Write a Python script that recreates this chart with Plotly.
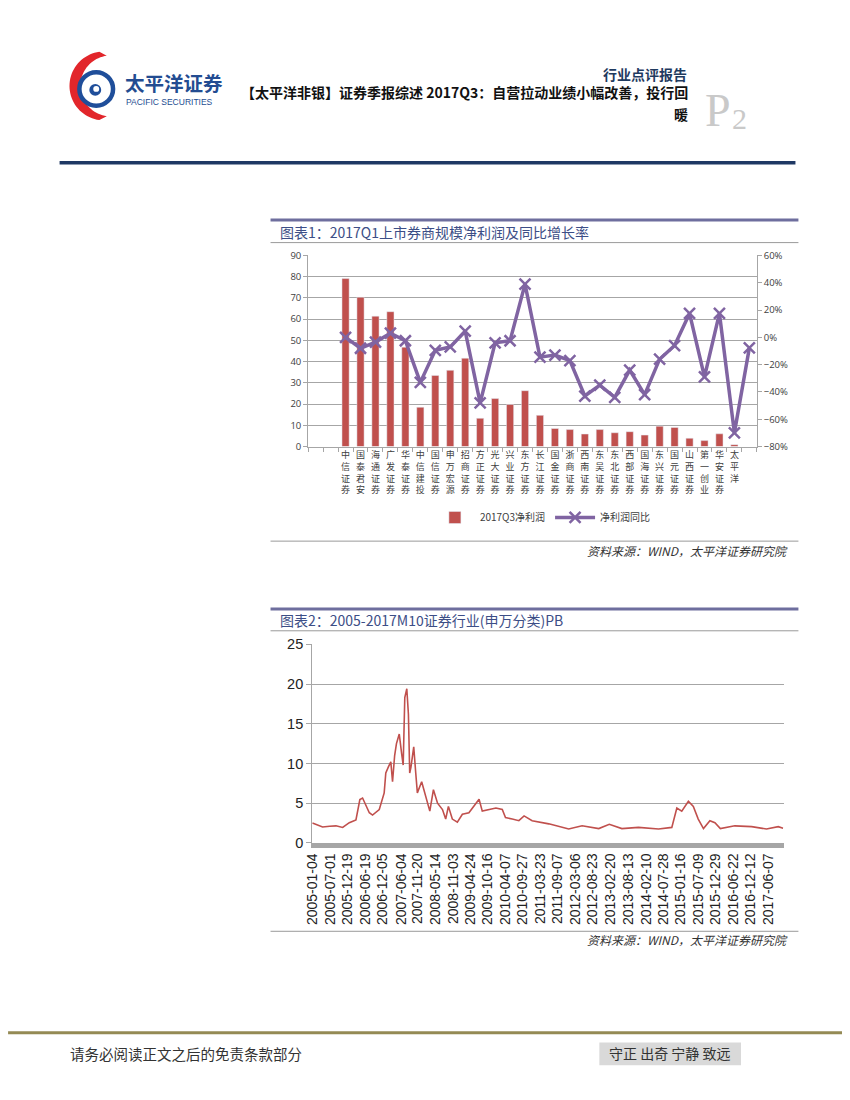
import math
import plotly.graph_objects as go

# The page body keeps the browser's default 8px margin, so the figure is
# sized to fill the 850x1100 window exactly together with that margin.
PAGE_W, PAGE_H = 850, 1100
OFF = 8
W, H = PAGE_W - 2 * OFF, PAGE_H - 2 * OFF

# ---------------- data: chart 1 ----------------
brokers = ["", "", "中信证券", "国泰君安", "海通证券", "广发证券", "华泰证券", "中信建投",
           "国信证券", "申万宏源", "招商证券", "方正证券", "光大证券", "兴业证券", "东方证券",
           "长江证券", "国金证券", "浙商证券", "西南证券", "东吴证券", "东北证券", "西部证券",
           "国海证券", "东兴证券", "国元证券", "山西证券", "第一创业", "华安证券", "太平洋", ""]
net_profit = [None, None, 79.1, 70.3, 61.4, 63.5, 46.8, 18.5, 33.5, 35.9, 41.6, 13.3, 22.6, 19.8,
              26.3, 14.7, 8.5, 8.0, 5.9, 8.0, 6.5, 7.0, 5.4, 9.6, 9.0, 3.9, 2.8, 6.0, 0.9, None]
yoy_pct = [None, None, 0, -8, -3.5, 3, -2.5, -33, -9.5, -7, 4.5, -48, -4, -2.5, 39, -14.5, -13,
           -17, -43, -35, -44, -24, -42, -16, -6, 17.5, -29, 17.5, -70, -7.7]

# ---------------- data: chart 2 ----------------
pb_dates = ["2005-01-04", "2005-02-16", "2005-04-15", "2005-06-24", "2005-08-26", "2005-11-01",
            "2006-01-06", "2006-03-13", "2006-04-21", "2006-05-18", "2006-06-16", "2006-07-24",
            "2006-08-25", "2006-10-31", "2006-12-19", "2007-01-04", "2007-01-31", "2007-02-23",
            "2007-03-12", "2007-04-02", "2007-04-20", "2007-05-18", "2007-06-11", "2007-06-26",
            "2007-07-12", "2007-08-01", "2007-08-17", "2007-08-30", "2007-09-11", "2007-10-09",
            "2007-10-29", "2007-11-14", "2007-12-27", "2008-02-05", "2008-03-17", "2008-04-22",
            "2008-06-02", "2008-07-21", "2008-08-22", "2008-09-18", "2008-10-27", "2008-12-16",
            "2009-02-04", "2009-04-10", "2009-06-01", "2009-07-20", "2009-08-21", "2009-10-27",
            "2010-01-04", "2010-03-08", "2010-04-09", "2010-06-15", "2010-08-20", "2010-10-11",
            "2010-12-30", "2011-06-14", "2011-12-29", "2012-05-10", "2012-10-23", "2013-02-05",
            "2013-06-10", "2013-11-22", "2014-06-10", "2014-10-20", "2014-12-09", "2015-01-27",
            "2015-04-03", "2015-05-22", "2015-07-10", "2015-08-31", "2015-11-03", "2015-12-23",
            "2016-02-15", "2016-07-08", "2016-12-22", "2017-05-19", "2017-09-13", "2017-10-31"]
pb_values = [2.5, 2.3, 2.0, 2.1, 2.15, 1.95,
             2.55, 2.9, 5.45, 5.65, 4.8, 3.8,
             3.5, 4.2, 6.3, 8.8, 9.6, 10.2,
             7.7, 11.0, 12.5, 13.7, 11.2, 9.8,
             18.3, 19.4, 16.2, 8.8, 9.5, 12.1,
             8.8, 6.3, 7.7, 5.9, 4.0, 6.7,
             5.0, 4.2, 3.0, 4.6, 3.0, 2.6,
             3.6, 3.8, 4.6, 5.5, 4.0, 4.2,
             4.4, 4.2, 3.2, 3.0, 2.8, 3.4,
             2.8, 2.4, 1.75, 2.15, 1.8, 2.35,
             1.8, 1.95, 1.75, 1.95, 4.4, 4.0,
             5.25, 4.6, 3.0, 1.8, 2.8, 2.55,
             1.8, 2.15, 2.05, 1.75, 2.05, 1.85]
pb_tick_dates = ["2005-01-04", "2005-07-01", "2005-12-19", "2006-06-19", "2006-12-05", "2007-06-04",
                 "2007-11-20", "2008-05-14", "2008-11-03", "2009-04-24", "2009-10-16", "2010-04-07",
                 "2010-09-27", "2011-03-23", "2011-09-07", "2012-03-06", "2012-08-23", "2013-02-20",
                 "2013-08-13", "2014-02-10", "2014-07-28", "2015-01-16", "2015-07-09", "2015-12-29",
                 "2016-06-22", "2016-12-12", "2017-06-07"]


def px(x):
    return (x - OFF) / W


def py(y):
    return 1 - (y - OFF) / H


CJK = "Noto Sans CJK SC"
GRID = "#a6a6a6"

# unique category keys (blank slots get private keys, shown with empty labels)
cat_keys = [b if b else f"_slot{i}" for i, b in enumerate(brokers)]
cat_text = ["<br>".join(b) for b in brokers]

fig = go.Figure()
fig.add_trace(go.Bar(x=cat_keys, y=net_profit, name="2017Q3净利润", marker_color="#C0504D",
                     xaxis="x", yaxis="y"))
fig.add_trace(go.Scatter(x=cat_keys, y=[None if v is None else v / 100 for v in yoy_pct],
                         name="净利润同比", mode="lines+markers",
                         line=dict(color="#8064A2", width=3.5),
                         marker=dict(symbol="x-thin-open", size=11, color="#8064A2",
                                     line=dict(width=2.5, color="#8064A2")),
                         xaxis="x", yaxis="y2"))
fig.add_trace(go.Scatter(x=pb_dates, y=pb_values, mode="lines", showlegend=False,
                         line=dict(color="#C0504D", width=1.6), xaxis="x2", yaxis="y3"))

fig.update_layout(
    width=W, height=H, autosize=False,
    margin=dict(l=0, r=0, t=0, b=0),
    paper_bgcolor="white", plot_bgcolor="white",
    bargap=0.52,
    font=dict(family=CJK, color="#333333"),
    legend=dict(orientation="h", x=px(540), y=py(517), xanchor="center", yanchor="middle",
                font=dict(family=CJK, size=10, color="#404040"), bgcolor="rgba(0,0,0,0)",
                itemwidth=40, tracegroupgap=0),
    xaxis=dict(domain=[px(303), px(756)], anchor="y", type="category",
               categoryorder="array", categoryarray=cat_keys,
               range=[-0.5, len(cat_keys) - 0.5], autorange=False,
               tickvals=cat_keys, ticktext=cat_text,
               tickangle=0, tickson="boundaries", ticks="outside", ticklen=4, tickcolor=GRID,
               showline=True, linecolor=GRID, linewidth=1, showgrid=False,
               tickfont=dict(family=CJK, size=9, color="#404040")),
    yaxis=dict(domain=[py(445), py(251)], range=[0, 90], dtick=10, showgrid=True,
               gridcolor=GRID, gridwidth=1, showline=True, linecolor=GRID, ticks="outside",
               ticklen=4, tickcolor=GRID, zeroline=False,
               tickfont=dict(family="Open Sans", size=9.5, color="#404040")),
    yaxis2=dict(overlaying="y", anchor="x", side="right", range=[-0.8, 0.6], dtick=0.2,
                tickformat=".0%", showgrid=False, showline=True, linecolor=GRID,
                ticks="outside", ticklen=4, tickcolor=GRID, zeroline=False,
                tickfont=dict(family="Open Sans", size=9.5, color="#404040")),
    xaxis2=dict(domain=[px(307), px(783)], anchor="y3", type="date",
                range=["2005-01-01", "2017-11-05"], tickvals=pb_tick_dates, ticktext=pb_tick_dates,
                tickangle=-90, showline=True, linecolor=GRID, linewidth=5, showgrid=False,
                ticks="", tickfont=dict(family="Liberation Sans", size=14, color="#222222")),
    yaxis3=dict(domain=[py(847.3), py(645.7)], anchor="x2", range=[0, 25], dtick=5,
                showgrid=True, gridcolor=GRID, gridwidth=1.3, showline=True, linecolor=GRID,
                ticks="outside", ticklen=5, tickcolor=GRID, zeroline=False,
                tickfont=dict(family="Liberation Sans", size=14.5, color="#222222")),
)

shapes = []
annos = []


def hline(y, x0, x1, color, width):
    shapes.append(dict(type="line", xref="paper", yref="paper", x0=px(x0), x1=px(x1),
                       y0=py(y), y1=py(y), line=dict(color=color, width=width)))


def text(x, y, s, size, color="#333333", family=CJK, xanchor="left", bold=False):
    if bold:
        s = "<b>" + s + "</b>"
    annos.append(dict(xref="paper", yref="paper", x=px(x), y=py(y), text=s, showarrow=False,
                      xanchor=xanchor, yanchor="middle",
                      font=dict(family=family, size=size, color=color)))


# ---- header ----
pts = []
for i in range(0, 41):
    a = math.radians(98 + i * (262 - 98) / 40)
    pts.append((97 + 35 * math.cos(a), 79 - 35 * math.sin(a)))
for i in range(0, 41):
    a = math.radians(262 - i * (262 - 98) / 40)
    pts.append((104 + 31 * math.cos(a), 79 - 31 * math.sin(a)))
path = "M " + " L ".join(f"{px(x):.5f},{py(y):.5f}" for x, y in pts) + " Z"
shapes.append(dict(type="path", xref="paper", yref="paper", path=path,
                   fillcolor="#E2262B", line=dict(width=0)))
shapes.append(dict(type="circle", xref="paper", yref="paper", x0=px(72), x1=px(106),
                   y0=py(99), y1=py(65), line=dict(color="#1F4E9A", width=4.5)))
shapes.append(dict(type="circle", xref="paper", yref="paper", x0=px(82), x1=px(94),
                   y0=py(89), y1=py(77), fillcolor="#1F4E9A", line=dict(width=0)))
shapes.append(dict(type="circle", xref="paper", yref="paper", x0=px(86), x1=px(92),
                   y0=py(85), y1=py(79), fillcolor="white", line=dict(width=0)))

text(116, 76, "太平洋证券", 19.5, color="#234C91", bold=True)
text(117, 95.5, "PACIFIC SECURITIES", 8.5, color="#234C91", family="Liberation Sans")
text(688, 67, "行业点评报告", 14, color="#1F3A5F", xanchor="right", bold=True)
text(689, 85, "【太平洋非银】证券季报综述 2017Q3：自营拉动业绩小幅改善，投行回", 14,
     color="#111111", xanchor="right", bold=True)
text(689, 107, "暖", 14, color="#111111", xanchor="right", bold=True)
text(702, 104, "P", 46, color="#C9C9C9", family="Liberation Serif")
text(729, 112, "2", 30, color="#C9C9C9", family="Liberation Serif")
hline(157, 52, 795, "#1F3864", 3.5)

# ---- chart 1 frame ----
hline(215, 265, 798, "#6E6E9E", 3)
text(273, 227, "图表1：2017Q1上市券商规模净利润及同比增长率", 14, color="#3C4E86")
hline(238, 265, 798, "#9A9A9A", 1)
hline(541, 265, 798, "#9A9A9A", 1)
text(790, 551, "<i>资料来源：WIND，太平洋证券研究院</i>", 12, color="#333333", xanchor="right")

# ---- chart 2 frame ----
hline(610, 265, 798, "#6E6E9E", 3)
text(273, 621, "图表2：2005-2017M10证券行业(申万分类)PB", 14, color="#3C4E86")
hline(632, 265, 798, "#9A9A9A", 1)
hline(937, 265, 798, "#9A9A9A", 1)
text(790, 945, "<i>资料来源：WIND，太平洋证券研究院</i>", 12, color="#333333", xanchor="right")

# ---- footer ----
hline(1040, 0, 850, "#948A54", 3)
text(60, 1061, "请务必阅读正文之后的免责条款部分", 14.5, color="#333333")
shapes.append(dict(type="rect", xref="paper", yref="paper", x0=px(597), x1=px(740),
                   y0=py(1073), y1=py(1050), fillcolor="#D9D9D9", line=dict(width=0)))
text(668, 1061, "守正 出奇 宁静 致远", 14, color="#333333", xanchor="center")

fig.update_layout(shapes=shapes, annotations=annos)

fig.write_html("out.html", config={"displayModeBar": False})
